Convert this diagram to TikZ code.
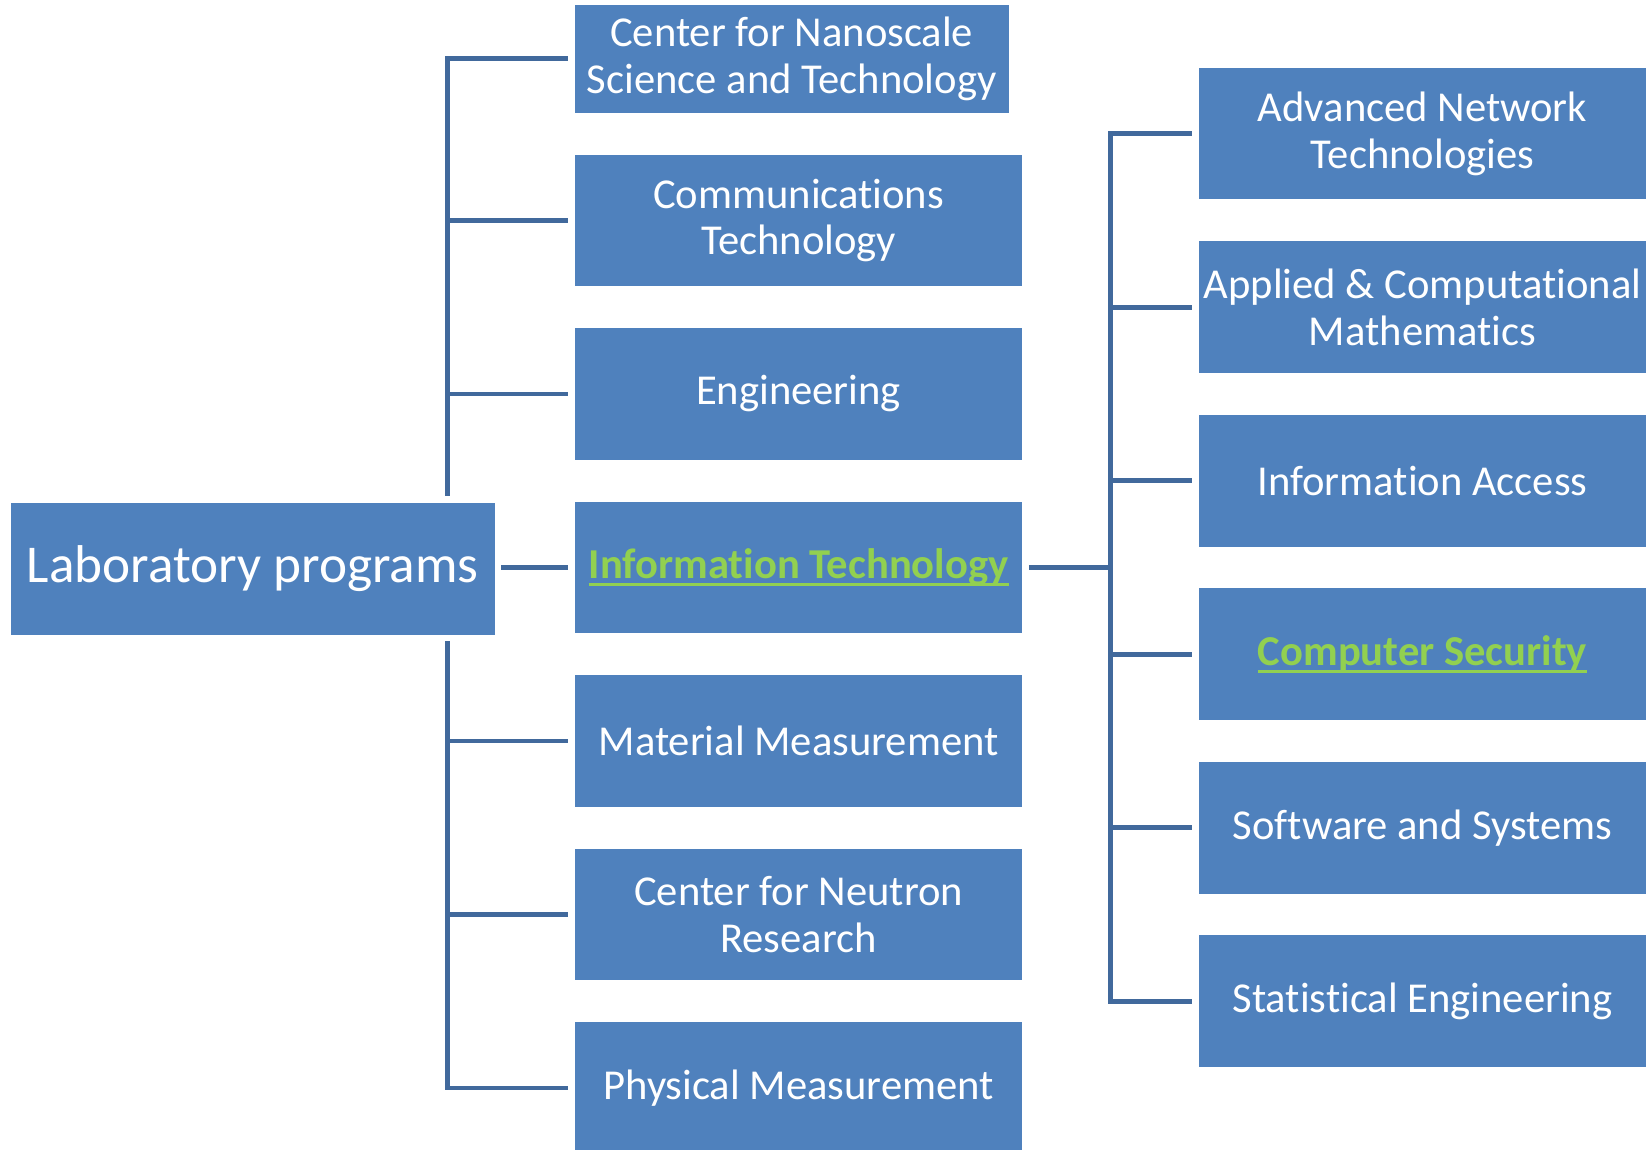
\documentclass[tikz,border=0pt]{standalone}
\usepackage{fontspec}
\setmainfont{Carlito}[Ligatures=NoCommon]
\usetikzlibrary{positioning}
\definecolor{boxblue}{HTML}{4F81BD}
\definecolor{linkblue}{HTML}{41699C}
\definecolor{linkgreen}{HTML}{92D050}
% underlined green text for the highlighted units
\newcommand{\greenlink}[1]{{\color{linkgreen}\bfseries\setbox0\hbox{#1}\rlap{\rule[-3.5pt]{\wd0}{1.3pt}}\box0}}
\tikzset{
    %Define style for boxes
    unit/.style={
           rectangle,
           fill=boxblue,
           text=white,
           inner sep=0pt,
           minimum width=223.8pt,
           minimum height=65.8pt,
           align=center,
           font=\fontsize{21.3}{23.3}\selectfont},
    topunit/.style={
           unit,
           minimum width=216.9pt,
           minimum height=54pt},
    root/.style={
           unit,
           minimum width=242.2pt,
           font=\fontsize{26.6}{30}\selectfont},
    % Define connector style
    link/.style={
           draw=linkblue,
           line width=2.4pt,
           shorten >=3pt}
}
\begin{document}
\begin{tikzpicture}[x=0.5pt, y=-0.5pt, node distance=20.55pt]
\useasboundingbox (0,0) rectangle (1651,1150);
\node[root](lab) at (252.7,569.1){Laboratory programs};
% middle column
\node[unit](it) at (798.6,567.5){\greenlink{Information Technology}};
\node[unit, above=of it](eng){Engineering};
\node[unit, above=of eng](comm){Communications\\Technology};
\node[topunit, above=of comm.north west, anchor=south west](nano){Center for Nanoscale\\Science and Technology};
\node[unit, below=of it](mat){Material Measurement};
\node[unit, below=of mat](neu){Center for Neutron\\Research};
\node[unit, below=of neu](phys){Physical Measurement};
% right column
\node[unit](acc) at (1422.5,480.7){Information Access};
\node[unit, above=of acc](acm){Applied \& Computational\\Mathematics};
\node[unit, above=of acm](ant){Advanced Network\\Technologies};
\node[unit, below=of acc](sec){\greenlink{Computer Security}};
\node[unit, below=of sec](sas){Software and Systems};
\node[unit, below=of sas](sed){Statistical Engineering};
% buses
\coordinate (lup) at (447.5,496);
\coordinate (ldn) at (447.5,641);
\coordinate (rbus) at (1110.8,567.5);
\foreach \n in {nano,comm,eng}
    \draw[link] (lup) |- (\n.west);
\foreach \n in {mat,neu,phys}
    \draw[link] (ldn) |- (\n.west);
\draw[link, shorten <=3pt] (lab.east |- it.west) -- (it.west);
\draw[link, shorten <=3pt, shorten >=0pt] (it.east) -- (rbus);
\foreach \n in {ant,acm,acc,sec,sas,sed}
    \draw[link] (rbus) |- (\n.west);
\end{tikzpicture}
\end{document}
